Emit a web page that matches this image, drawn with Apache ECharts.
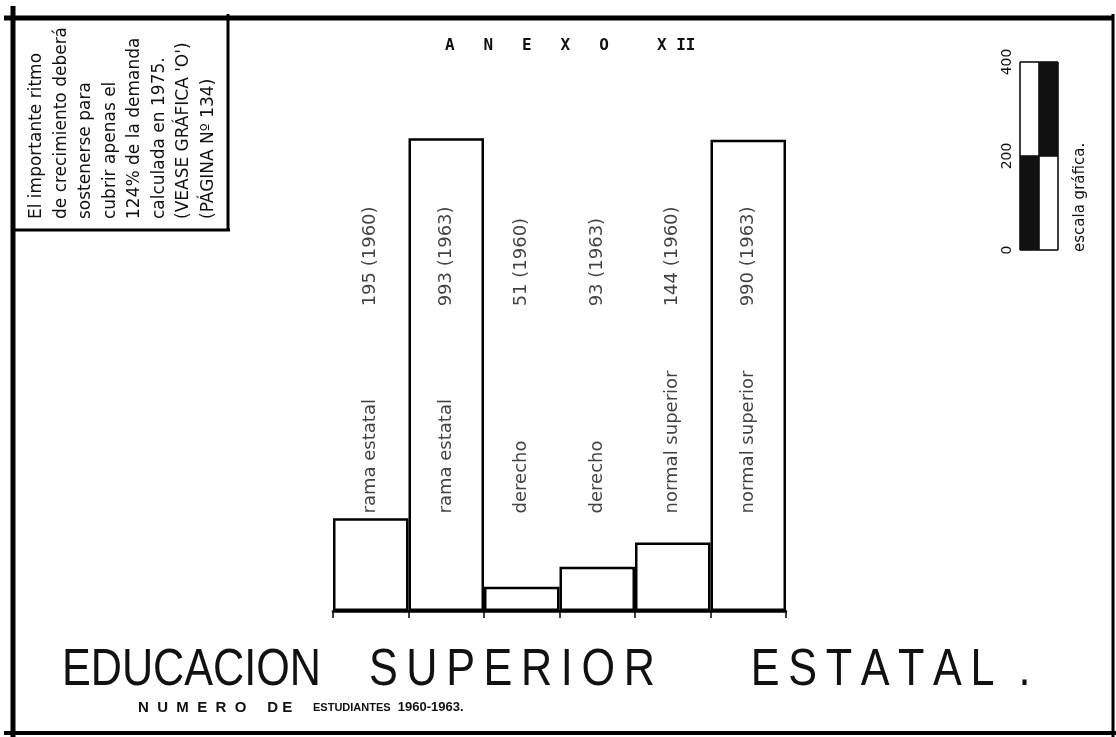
<!DOCTYPE html>
<html>
<head>
<meta charset="utf-8">
<title>Educacion superior estatal</title>
<script src="https://cdn.jsdelivr.net/npm/echarts@6/dist/echarts.min.js"></script>
<style>
  html, body { margin: 0; padding: 0; background: #fff; }
  #chart { width: 1116px; height: 737px; }
</style>
</head>
<body>
<div id="chart"></div>
<script>
// bars: one per school and year
const categories = ['rama estatal', 'rama estatal', 'derecho', 'derecho', 'normal superior', 'normal superior'];
const years = ['1960', '1963', '1960', '1963', '1960', '1963'];
const students = [195, 993, 51, 93, 144, 990];

// graphic scale at the top right (0 - 200 - 400)
const scaleBase = [0, 200];
const scaleFill = [200, 200];

// note in the top left box
const noteLines = [
  'El importante ritmo',
  'de crecimiento deberá',
  'sostenerse para',
  'cubrir apenas el',
  '124% de la demanda',
  'calculada en 1975.',
  "(VEASE GRÁFICA 'O')",
  '(PÁGINA Nº 134)'
];

const ink = '#111';
const hand = '"DejaVu Sans", sans-serif';

// where the rotated labels start, in axis units
const nameLevel = 205;
const valueLevel = 640;

// hand lettering is spread out, thin spaces between the letters
const spread = w => w.split('').join('\u2009');

const chart = echarts.init(document.getElementById('chart'));

const frame = [
  [4, 18, 1114, 18, 5],
  [13, 6, 13, 737, 5],
  [1113, 14, 1113, 737, 3],
  [4, 733, 1116, 733, 4],
  [228, 14, 228, 231, 3],
  [13, 230, 230, 230, 3]
].map(([x1, y1, x2, y2, w]) => ({
  type: 'line',
  silent: true,
  shape: { x1, y1, x2, y2 },
  style: { stroke: '#000', lineWidth: w }
}));

const notes = noteLines.map((t, i) => ({
  type: 'text',
  silent: true,
  x: 37 + i * 24.5,
  y: 219,
  rotation: Math.PI / 2,
  style: {
    text: t,
    fill: ink,
    font: '17px ' + hand,
    textAlign: 'left',
    textVerticalAlign: 'middle'
  }
}));

const option = {
  backgroundColor: '#fff',
  animation: false,
  title: [
    {
      text: 'A   N   E   X   O     X II',
      left: 440,
      top: 33,
      textStyle: { fontFamily: '"DejaVu Sans Mono", monospace', fontSize: 16, fontWeight: 'bold', color: ink }
    },
    {
      text: '{a|N  U  M  E  R  O     D E     }{b|ESTUDIANTES}{c|  1960-1963.}',
      left: 133,
      top: 695,
      textStyle: {
        rich: {
          a: { fontFamily: '"Liberation Sans", sans-serif', fontSize: 15, fontWeight: 'bold', color: ink },
          b: { fontFamily: '"Liberation Sans", sans-serif', fontSize: 11, fontWeight: 'bold', color: ink },
          c: { fontFamily: '"Liberation Sans", sans-serif', fontSize: 13, fontWeight: 'bold', color: ink }
        }
      }
    }
  ],
  grid: [
    { left: 333, right: 330, top: 135, bottom: 126 },
    { left: 1020, width: 38, top: 62, height: 188 }
  ],
  xAxis: [
    {
      type: 'category',
      gridIndex: 0,
      data: categories,
      axisLine: { lineStyle: { color: '#000', width: 2.5 } },
      axisTick: { show: true, interval: 0, length: 7, lineStyle: { color: '#000', width: 1.5 } },
      axisLabel: { show: false },
      splitLine: { show: false }
    },
    {
      type: 'category',
      gridIndex: 1,
      data: ['a', 'b'],
      axisLine: { show: false },
      axisTick: { show: false },
      axisLabel: { show: false },
      splitLine: { show: true, interval: 0, lineStyle: { color: '#000', width: 1.5 } }
    }
  ],
  yAxis: [
    {
      type: 'value',
      gridIndex: 0,
      min: 0,
      max: 1000,
      show: false
    },
    {
      type: 'value',
      gridIndex: 1,
      min: 0,
      max: 400,
      interval: 200,
      axisLine: { show: false },
      axisTick: { show: false },
      axisLabel: { rotate: 90, margin: 6, color: ink, fontSize: 14, fontFamily: hand },
      splitLine: { show: true, lineStyle: { color: '#000', width: 1.5 } }
    }
  ],
  series: [
    {
      type: 'bar',
      xAxisIndex: 0,
      yAxisIndex: 0,
      data: students,
      barCategoryGap: 0,
      silent: true,
      itemStyle: { color: '#fff', borderColor: '#000', borderWidth: 2.5 }
    },
    {
      type: 'scatter',
      xAxisIndex: 0,
      yAxisIndex: 0,
      symbolSize: 0,
      silent: true,
      data: categories.map((c, i) => [i, nameLevel]),
      label: {
        show: true,
        position: 'inside',
        rotate: 90,
        align: 'left',
        verticalAlign: 'middle',
        color: ink,
        fontFamily: hand,
        fontSize: 18,
        formatter: p => categories[p.dataIndex]
      }
    },
    {
      type: 'scatter',
      xAxisIndex: 0,
      yAxisIndex: 0,
      symbolSize: 0,
      silent: true,
      data: students.map((v, i) => [i, valueLevel]),
      label: {
        show: true,
        position: 'inside',
        rotate: 90,
        align: 'left',
        verticalAlign: 'middle',
        color: ink,
        fontFamily: hand,
        fontSize: 18,
        formatter: p => students[p.dataIndex] + ' (' + years[p.dataIndex] + ')'
      }
    },
    {
      type: 'bar',
      xAxisIndex: 1,
      yAxisIndex: 1,
      stack: 'scale',
      data: scaleBase,
      barCategoryGap: 0,
      silent: true,
      itemStyle: { color: 'rgba(0,0,0,0)' }
    },
    {
      type: 'bar',
      xAxisIndex: 1,
      yAxisIndex: 1,
      stack: 'scale',
      data: scaleFill,
      barCategoryGap: 0,
      silent: true,
      itemStyle: { color: '#111' }
    }
  ],
  graphic: [
    ...frame,
    ...notes,
    {
      type: 'text',
      silent: true,
      x: 1080,
      y: 252,
      rotation: Math.PI / 2,
      style: {
        text: 'escala gráfica.',
        fill: ink,
        font: '15px ' + hand,
        textAlign: 'left',
        textVerticalAlign: 'middle'
      }
    },
    {
      type: 'text',
      silent: true,
      x: 62,
      y: 671,
      scaleX: 0.83,
      style: {
        text: 'EDUCACION    ' + spread('SUPERIOR') + '        ' + spread('ESTATAL') + '  .',
        fill: ink,
        font: '52px "Liberation Sans", sans-serif',
        textAlign: 'left',
        textVerticalAlign: 'middle'
      }
    }
  ]
};

chart.setOption(option);
</script>
</body>
</html>
